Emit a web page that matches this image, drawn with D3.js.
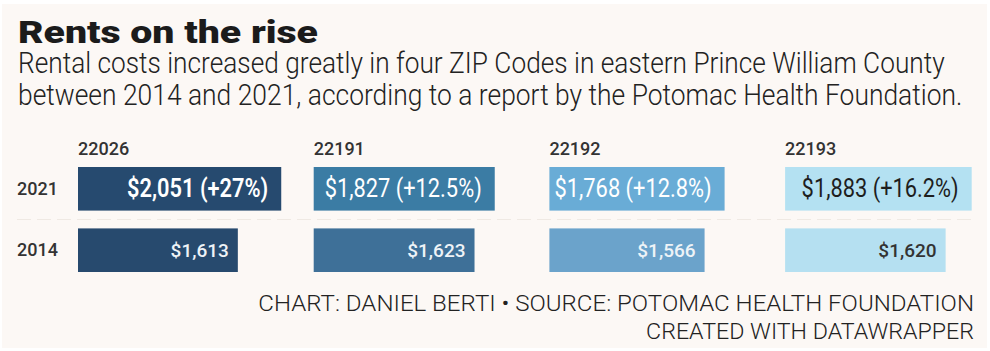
<!DOCTYPE html>
<html>
<head>
<meta charset="utf-8">
<script src="https://cdn.jsdelivr.net/npm/d3@7"></script>
<style>
  html, body { margin: 0; padding: 0; background: #ffffff; }
  svg { display: block; }
</style>
</head>
<body>
<div id="chart"></div>
<script>
// Data
var zips     = ["22026", "22191", "22192", "22193"];
var years    = ["2021", "2014"];
var rent2021 = [2051, 1827, 1768, 1883];
var rent2014 = [1613, 1623, 1566, 1620];
var change   = ["+27%", "+12.5%", "+12.8%", "+16.2%"];

var title    = "Rents on the rise";
var subtitle = ["Rental costs increased greatly in four ZIP Codes in eastern Prince William County",
                "between 2014 and 2021, according to a report by the Potomac Health Foundation."];
var footer   = ["CHART: DANIEL BERTI \u2022 SOURCE: POTOMAC HEALTH FOUNDATION",
                "CREATED WITH DATAWRAPPER"];

var width = 990, height = 351;

var svg = d3.select("#chart").append("svg")
  .attr("width", width)
  .attr("height", height);

// paper background
svg.append("rect")
  .attr("x", 2).attr("y", 4)
  .attr("width", 985).attr("height", 344)
  .attr("fill", "#fcf8f5");

// squeeze/stretch a text horizontally so it spans w pixels (newspaper condensed face)
function fitText(sel, x0, y0, w) {
  var len = sel.node().getComputedTextLength();
  var k = w / len;
  sel.attr("x", 0).attr("y", 0)
    .attr("transform", "translate(" + x0 + "," + y0 + ") scale(" + k + ",1)");
}

svg.append("text")
  .attr("font-family", "Roboto, sans-serif")
  .attr("font-weight", 900)
  .attr("font-size", 32)
  .attr("fill", "#1b1b1b")
  .text(title)
  .call(fitText, 18, 43, 300);

var subW = [927, 945];
subtitle.forEach(function(s, i) {
  svg.append("text")
    .attr("font-family", "Roboto, sans-serif")
    .attr("font-weight", 300)
    .attr("font-size", 29)
    .attr("fill", "#222")
    .text(s)
    .call(fitText, 18, 73 + i * 32, subW[i]);
});

// rows
var rows = zips.map(function(z, i) {
  return { zip: z, v2021: rent2021[i], v2014: rent2014[i], change: change[i], i: i };
});

// Scales
var panel = d3.scaleBand().domain(zips).range([78, 78 + 4 * 235.7]).paddingInner(0);
var y = d3.scaleBand().domain(years).range([167, 272]).paddingInner(0.29);
var x = d3.scaleLinear().domain([0, 2200]).range([0, 218]);

var col2021 = d3.scaleOrdinal(zips, ["#264a6f", "#3b7ca4", "#69acd6", "#b4e1f2"]);
var col2014 = d3.scaleOrdinal(zips, ["#274a6e", "#3e7098", "#6ba3cb", "#b5e0f1"]);
var darkText = { "22193": true };

// faint row separator
var sepY = y("2014") - (y.step() - y.bandwidth()) / 2;
svg.append("line")
  .attr("x1", 17).attr("x2", 975)
  .attr("y1", sepY).attr("y2", sepY)
  .attr("stroke", "#efe9e3")
  .attr("stroke-dasharray", "14,6");

// row labels
svg.selectAll(".row-label")
  .data(years)
  .enter().append("text")
  .attr("class", "row-label")
  .attr("x", 17)
  .attr("y", function(d) { return y(d) + y.bandwidth() / 2 + 6; })
  .attr("font-family", "Roboto, sans-serif")
  .attr("font-weight", 500)
  .attr("font-size", 18)
  .attr("fill", "#333")
  .text(function(d) { return d; });

var g = svg.selectAll(".panel")
  .data(rows)
  .enter().append("g")
  .attr("class", "panel")
  .attr("transform", function(d) { return "translate(" + panel(d.zip) + ",0)"; });

g.append("text")
  .attr("x", 0).attr("y", 155)
  .attr("font-family", "Roboto, sans-serif")
  .attr("font-weight", 500)
  .attr("font-size", 18)
  .attr("fill", "#333")
  .text(function(d) { return d.zip; });

// 2021 bars
g.append("rect")
  .attr("x", 0)
  .attr("y", y("2021"))
  .attr("width", function(d) { return x(d.v2021); })
  .attr("height", y.bandwidth())
  .attr("fill", function(d) { return col2021(d.zip); });

// 2014 bars
g.append("rect")
  .attr("x", 0)
  .attr("y", y("2014"))
  .attr("width", function(d) { return x(d.v2014); })
  .attr("height", y.bandwidth())
  .attr("fill", function(d) { return col2014(d.zip); });

var fmt = d3.format("$,");

g.append("text")
  .attr("transform", function(d) {
    return "translate(" + (x(d.v2021) - 13) + "," + (y("2021") + y.bandwidth() / 2 + 8) + ") scale(0.84,1)";
  })
  .attr("text-anchor", "end")
  .attr("font-family", "Roboto, sans-serif")
  .attr("font-weight", function(d) { return d.i == 0 ? 600 : 400; })
  .attr("font-size", 26)
  .attr("fill", function(d) { return darkText[d.zip] ? "#1e1e1e" : "#ffffff"; })
  .text(function(d) { return fmt(d.v2021) + " (" + d.change + ")"; });

g.append("text")
  .attr("x", function(d) { return x(d.v2014) - 9; })
  .attr("y", y("2014") + y.bandwidth() / 2 + 7)
  .attr("text-anchor", "end")
  .attr("font-family", "Roboto, sans-serif")
  .attr("font-weight", 500)
  .attr("font-size", 19)
  .attr("fill", function(d) { return darkText[d.zip] ? "#333" : "#eef3f7"; })
  .text(function(d) { return fmt(d.v2014); });

// footer
var footW = [716, 328];
footer.forEach(function(s, i) {
  svg.append("text")
    .attr("text-anchor", "end")
    .attr("font-family", "Roboto, sans-serif")
    .attr("font-weight", 300)
    .attr("font-size", 22)
    .attr("fill", "#222")
    .text(s)
    .call(fitText, 974, 311 + i * 28, footW[i]);
});
</script>
</body>
</html>
